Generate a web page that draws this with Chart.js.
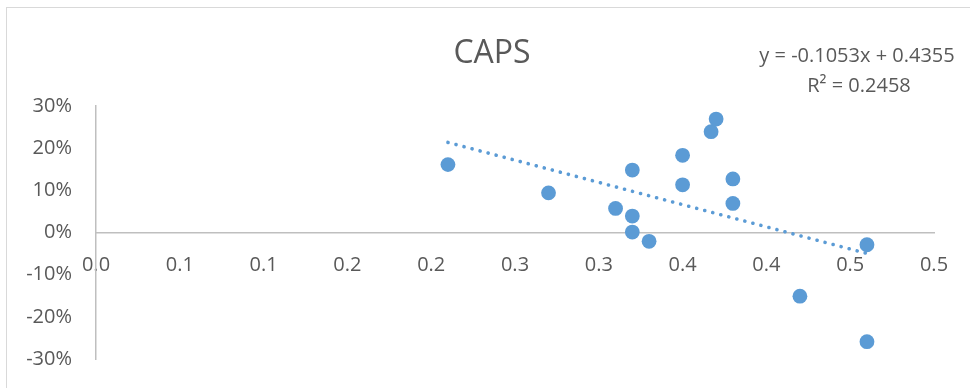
<!DOCTYPE html>
<html>
<head>
<meta charset="utf-8">
<script src="https://cdn.jsdelivr.net/npm/chart.js@4"></script>
<style>
    html, body { margin: 0; padding: 0; background: #fff; overflow: hidden; }
    #wrap { position: relative; width: 970px; height: 388px; }
    #frame { position: absolute; left: 6px; top: 7px; width: 1000px; height: 420px; border: 1px solid #d9d9d9; }
    #chart { position: absolute; left: 0; top: 0; }
</style>
</head>
<body>
<div id="wrap">
    <div id="frame"></div>
    <canvas id="chart" width="970" height="388"></canvas>
</div>
<script>
// ==============================
// Data
// ==============================

    const chartTitle = 'CAPS';
    const xValues = [0.21, 0.27, 0.31, 0.32, 0.32, 0.32, 0.33, 0.35, 0.35, 0.367, 0.37, 0.38, 0.38, 0.42, 0.46, 0.46];
    const yValues = [0.161, 0.094, 0.057, 0.148, 0.039, 0.001, -0.021, 0.183, 0.113, 0.239, 0.269, 0.127, 0.069, -0.151, -0.029, -0.259];
    const xTickLabels = ['0.0', '0.1', '0.1', '0.2', '0.2', '0.3', '0.3', '0.4', '0.4', '0.5', '0.5'];
    const yTickLabels = ['-30%', '-20%', '-10%', '0%', '10%', '20%', '30%'];
    const trendLabel = ['y = -0.1053x + 0.4355', 'R\u00b2 = 0.2458'];

    const points = xValues.map((x, i) => ({ x: x, y: yValues[i] }));

    // Least squares trendline over the data range
    const n = xValues.length;
    const mx = xValues.reduce((a, b) => a + b, 0) / n;
    const my = yValues.reduce((a, b) => a + b, 0) / n;
    let sxy = 0, sxx = 0;
    xValues.forEach((x, i) => {
        sxy += (x - mx) * (yValues[i] - my);
        sxx += (x - mx) * (x - mx);
    });
    const slope = sxy / sxx;
    const icept = my - slope * mx;
    const xMin = Math.min(...xValues);
    const xMax = Math.max(...xValues);
    const trendPoints = [
        { x: xMin, y: icept + slope * xMin },
        { x: xMax, y: icept + slope * xMax }
    ];

    const blue = '#5b9bd5';
    const textGray = '#595959';
    const axisGray = '#bfbfbf';
    const font = '"Open Sans", sans-serif';

    // Title and trendline equation (Excel puts the title over the whole frame, not the plot)
    const textPlugin = {
        id: 'chartTexts',
        afterDraw(chart) {
            const ctx = chart.ctx;
            ctx.save();
            ctx.fillStyle = textGray;
            ctx.textAlign = 'center';
            ctx.textBaseline = 'alphabetic';
            ctx.font = '32px ' + font;
            ctx.fillText(chartTitle, 492, 63);
            ctx.font = '20px ' + font;
            ctx.textBaseline = 'middle';
            ctx.fillText(trendLabel[0], 857, 56);
            ctx.fillText(trendLabel[1], 859, 86);
            ctx.restore();
        }
    };

    new Chart(document.getElementById('chart'), {
        type: 'scatter',
        data: {
            datasets: [{
                type: 'line',
                label: 'Trend',
                data: trendPoints,
                borderColor: blue,
                borderWidth: 3.6,
                borderDash: [0.1, 8.2],
                borderCapStyle: 'round',
                pointRadius: 0,
                fill: false
            }, {
                label: chartTitle,
                data: points,
                backgroundColor: blue,
                borderColor: blue,
                borderWidth: 0,
                pointRadius: 7.4
            }]
        },
        options: {
            responsive: false,
            animation: false,
            devicePixelRatio: 1,
            layout: {
                padding: { left: 0, right: 36, top: 106, bottom: 29 }
            },
            scales: {
                x: {
                    type: 'linear',
                    position: { y: 0 },
                    min: 0,
                    max: 0.5,
                    grid: { drawOnChartArea: false, drawTicks: false },
                    border: { display: true, color: axisGray, width: 1.5 },
                    ticks: {
                        stepSize: 0.05,
                        padding: 21,
                        color: textGray,
                        font: { family: font, size: 20 },
                        callback: (v, i) => xTickLabels[i]
                    }
                },
                y: {
                    type: 'linear',
                    position: 'left',
                    min: -0.3,
                    max: 0.3,
                    grid: { drawOnChartArea: false, drawTicks: false },
                    border: { display: true, color: axisGray, width: 1.5 },
                    ticks: {
                        stepSize: 0.1,
                        padding: 24,
                        color: textGray,
                        font: { family: font, size: 20 },
                        callback: (v, i) => yTickLabels[i]
                    },
                    afterFit: (scale) => {
                        scale.width = 96;
                        scale.paddingTop = 0;
                        scale.paddingBottom = 0;
                    }
                }
            },
            plugins: {
                legend: { display: false },
                tooltip: { enabled: false },
                title: { display: false }
            }
        },
        plugins: [textPlugin]
    });
</script>
</body>
</html>
